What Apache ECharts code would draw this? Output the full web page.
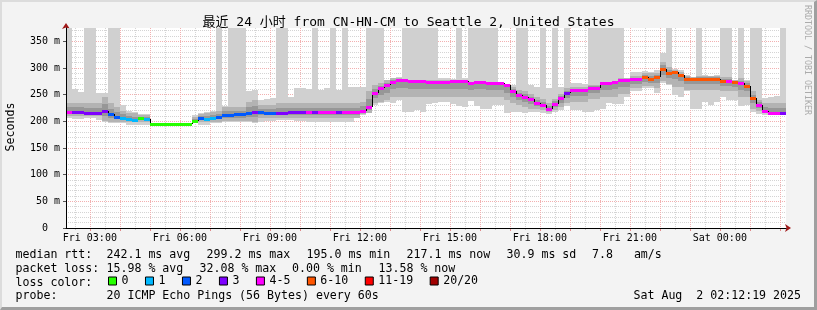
<!DOCTYPE html>
<html><head><meta charset="utf-8">
<script src="https://cdn.jsdelivr.net/npm/echarts@6/dist/echarts.min.js"></script>
<style>
html,body{margin:0;padding:0;background:#f3f3f3;}
#wrap{position:relative;width:817px;height:310px;}
#c{width:817px;height:310px;}
#frame{position:absolute;left:0;top:0;width:817px;height:310px;box-sizing:border-box;pointer-events:none;
 border-top:2px solid #dcdcdc;border-left:2px solid #dcdcdc;border-right:3px solid #9f9f9f;border-bottom:3px solid #9f9f9f;}
</style></head><body><div id="wrap"><div id="c"></div><div id="frame"></div></div>
<script>
// ---- time frame (hours since Fri 00:00) ----
const START_H = 2 + 12/60 + 19/3600;   // Fri 02:12:19
const END_H = START_H + 24;           // Sat 02:12:19
const FIRST_STEP_H = 2.2;              // 02:12:00, 12-minute consolidation steps
const STEP_H = 0.2;
const Y_MAX = 375;

// ---- loss buckets ----
const lossNames = ['0','1','2','3','4-5','6-10','11-19','20/20'];
const lossColors = ['#26ff00','#00b8ff','#0059ff','#7e00ff','#ff00ff','#ff5500','#ff0000','#a10000'];

// ---- median rtt per step (ms) ----
const median = [
 217,217,217,216,216,216,220,213,209,207,
 204,203,207,204,195,195,195,195,195,195,
 195,201,206,204,207,208,211,211,213,213,
 216,218,217,216,216,216,216,217,217,217,
 217,217,217,217,217,217,217,217,217,220,
 227,253,262,268,274,278,278,276,276,276,
 274,274,274,274,276,276,276,272,274,274,
 271,271,271,268,256,249,246,241,235,231,
 224,233,243,253,258,258,258,263,263,271,
 272,274,277,277,279,279,283,279,283,299,
 291,293,286,280,280,280,280,280,280,276,
 276,274,271,266,243,231,219,216,216,216];

// ---- loss bucket index per step ----
const lossIdx = [
 4,3,3,3,3,3,3,2,2,1,
 1,1,0,1,0,0,0,0,0,0,
 0,0,2,1,1,2,2,2,2,2,
 2,3,2,2,2,3,3,3,3,3,
 4,3,4,4,4,3,4,4,4,4,
 4,4,4,4,4,4,4,4,4,4,
 4,4,4,4,4,4,4,4,4,4,
 4,4,4,4,4,4,4,4,4,4,
 4,4,4,3,4,4,4,4,4,4,
 4,4,4,4,4,4,5,5,5,5,
 5,5,5,5,5,5,5,5,5,5,
 4,5,4,5,5,4,4,4,4,3];

// ---- smoke: slowest ping per step (400 = above the chart) ----
const pingMax = [
 400,261,255,400,400,253,253,400,400,231,
 219,217,213,213,195,195,195,195,195,195,
 195,211,215,217,219,400,228,400,400,400,
 256,259,240,242,243,400,400,246,262,262,
 261,400,259,262,400,259,400,265,265,265,
 400,400,400,278,282,284,400,400,400,400,
 400,400,281,281,279,400,281,400,400,400,
 400,400,273,270,268,400,400,268,265,400,
 263,400,265,400,271,271,270,400,400,400,
 400,400,400,281,293,293,294,292,296,328,
 400,299,296,287,284,400,286,285,286,400,
 400,278,400,278,400,400,243,246,248,400];

// ---- smoke: fastest ping per step ----
const pingMin = [
 206,204,204,206,206,202,199,196,196,196,
 194,194,194,194,195,195,195,195,195,195,
 195,198,194,194,196,196,198,198,198,198,
 199,196,199,201,201,203,203,203,201,201,
 198,198,198,199,199,199,199,199,212,212,
 215,231,234,237,234,240,217,217,221,217,
 232,234,237,236,232,228,226,238,228,224,
 224,231,231,215,217,217,215,218,217,215,
 213,217,221,228,221,221,217,217,221,224,
 235,232,232,246,256,256,262,262,253,271,
 268,249,246,256,224,224,237,231,237,246,
 240,240,229,231,217,213,211,211,212,212];

// ---- smoke: dense core band per step ----
const bandLo = [
 210,210,210,210,210,210,200,198,198,198,
 198,198,198,198,195,195,195,195,195,195,
 195,199,198,198,198,199,200,200,200,200,
 200,199,206,206,206,207,207,207,207,207,
 207,207,207,207,207,207,207,207,207,213,
 215,234,237,240,246,246,246,246,246,246,
 246,246,246,246,246,246,246,246,246,246,
 246,246,246,240,234,231,227,224,223,221,
 217,221,227,234,237,237,237,242,242,246,
 246,246,252,252,262,262,266,266,262,275,
 270,265,265,259,259,259,259,259,259,256,
 256,256,246,246,224,219,215,213,213,213];
const bandHi = [
 235,235,235,235,235,235,246,234,227,219,
 215,215,211,211,195,195,195,195,195,195,
 195,209,213,215,217,219,227,227,227,227,
 237,240,230,230,230,234,234,234,234,234,
 234,234,234,234,234,234,234,234,234,237,
 256,268,271,277,281,281,280,277,277,277,
 277,277,277,277,277,277,277,274,274,274,
 274,274,271,268,265,259,256,252,246,242,
 234,242,252,262,265,265,265,268,268,274,
 274,274,281,281,285,285,290,290,290,312,
 302,296,293,285,283,285,285,285,285,284,
 284,277,281,276,256,240,234,234,234,234];

// ---- axis ticks / labels ----
const xLabelHours = [3,6,9,12,15,18,21,24];
const xLabels = ['Fri 03:00','Fri 06:00','Fri 09:00','Fri 12:00','Fri 15:00','Fri 18:00','Fri 21:00','Sat 00:00'];
const xMajorHours = [3,4,5,6,7,8,9,10,11,12,13,14,15,16,17,18,19,20,21,22,23,24,25,26];
const xMinorHours = [2.5,3.5,4.5,5.5,6.5,7.5,8.5,9.5,10.5,11.5,12.5,13.5,14.5,15.5,16.5,17.5,18.5,19.5,20.5,21.5,22.5,23.5,24.5,25.5];
const yTicks = [0,50,100,150,200,250,300,350];
const yLabels = ['0  ','50 m','100 m','150 m','200 m','250 m','300 m','350 m'];
const yMinor = [10,20,30,40,60,70,80,90,110,120,130,140,160,170,180,190,210,220,230,240,260,270,280,290,310,320,330,340,360,370];

const FONT = "'DejaVu Sans Mono', monospace";
const TFONT = "'DejaVu Sans Mono', 'Noto Sans CJK SC', monospace";
const LIGHT = '#d0d0d0', MID = '#b3b3b3', DARK = '#979797';

const steps = median.map((m, i) => i);
const t0 = i => FIRST_STEP_H + i * STEP_H;

function rectBetween(api, cs, ta, tb, a, b, fill) {
  const p0 = api.coord([ta, Math.min(b, Y_MAX)]);
  const p1 = api.coord([tb, a]);
  const x0 = Math.max(Math.round(p0[0]), Math.round(cs.x));
  const x1 = Math.min(Math.round(p1[0]), Math.round(cs.x + cs.width));
  const y0 = Math.round(p0[1]), y1 = Math.round(p1[1]);
  if (x1 <= x0 || y1 - y0 < 1) return null;
  return {type: 'rect', shape: {x: x0, y: y0, width: x1 - x0, height: y1 - y0}, style: {fill: fill}};
}

function smokeItem(params, api) {
  const cs = params.coordSys;
  const ta = api.value(0), tb = api.value(1);
  const lo = api.value(2), hi = api.value(3), bl = api.value(4), bh = api.value(5), med = api.value(6);
  const ch = [
    rectBetween(api, cs, ta, tb, lo, hi, LIGHT),
    rectBetween(api, cs, ta, tb, bl, bh, MID),
    rectBetween(api, cs, ta, tb, (bl + med) / 2, (bh + med) / 2, DARK)
  ].filter(Boolean);
  return {type: 'group', children: ch};
}

function connectorItem(params, api) {
  const p0 = api.coord([api.value(0), api.value(1)]);
  const p1 = api.coord([api.value(0), api.value(2)]);
  const x = Math.round(p0[0]) + 0.5;
  return {type: 'line', shape: {x1: x, y1: Math.round(p0[1]), x2: x, y2: Math.round(p1[1])}, style: {stroke: '#000', lineWidth: 1}};
}

function medianItem(params, api) {
  const cs = params.coordSys;
  const p0 = api.coord([api.value(0), api.value(2)]);
  const p1 = api.coord([api.value(1), api.value(2)]);
  const x0 = Math.max(Math.round(p0[0]), Math.round(cs.x));
  const x1 = Math.min(Math.round(p1[0]), Math.round(cs.x + cs.width));
  const y = Math.round(p0[1]) - 1;
  return {type: 'rect', shape: {x: x0, y: y, width: x1 - x0, height: 3}, style: {fill: api.visual('color')}};
}

const smokeData = steps.map(i => [t0(i), t0(i + 1), pingMin[i], pingMax[i], bandLo[i], bandHi[i], median[i]]);
const connData = steps.filter(i => i > 0).map(i => [t0(i), median[i - 1], median[i]]);

const series = [
  {type: 'custom', name: 'smoke', xAxisIndex: 1, yAxisIndex: 1, z: 2, silent: true, clip: true,
   encode: {x: [0, 1], y: [2, 3]}, data: smokeData, renderItem: smokeItem},
  {type: 'custom', name: 'median', xAxisIndex: 1, yAxisIndex: 1, z: 3, silent: true, clip: true,
   encode: {x: 0, y: [1, 2]}, data: connData, renderItem: connectorItem}
].concat(lossNames.map((name, b) => ({
  type: 'custom', name: name, xAxisIndex: 1, yAxisIndex: 1, z: 4, silent: true, clip: true,
  itemStyle: {color: lossColors[b]},
  encode: {x: [0, 1], y: 2},
  data: steps.filter(i => lossIdx[i] === b).map(i => [t0(i), t0(i + 1), median[i]]),
  renderItem: medianItem
})));

const baseX = {type: 'value', position: 'bottom', min: START_H, max: END_H, gridIndex: 0};
const baseY = {type: 'value', position: 'left', min: 0, max: Y_MAX, gridIndex: 0};
const RED = '#f2b0b0', GREY = '#d4d4d4';

function txt(x, y, text, extra) {
  return Object.assign({type: 'text', x: x, y: y, silent: true,
    style: Object.assign({text: text, fill: '#000', font: '11.6px ' + FONT, align: 'left', verticalAlign: 'middle'}, extra || {})});
}

const option = {
  backgroundColor: '#f3f3f3',
  animation: false,
  grid: {left: 66, right: 31, top: 28, bottom: 82, show: true, backgroundColor: '#ffffff', borderWidth: 0},
  xAxis: [
    Object.assign({}, baseX, {axisLine: {show: false, onZero: false},
      axisTick: {show: true, customValues: xMinorHours, length: 2, lineStyle: {color: '#c4c4c4'}},
      axisLabel: {show: false}, splitLine: {show: true, lineStyle: {color: GREY, type: [1, 1], width: 1}}}),
    Object.assign({}, baseX, {axisLine: {show: false, onZero: false},
      axisTick: {show: true, customValues: xMajorHours, length: 3, lineStyle: {color: '#e08a8a'}},
      axisLabel: {show: true, customValues: xLabelHours, margin: 5, fontFamily: FONT, fontSize: 10, color: '#000',
        formatter: v => xLabels[xLabelHours.indexOf(Math.round(v))] || ''},
      splitLine: {show: true, lineStyle: {color: RED, type: [1, 1], width: 1}}}),
    Object.assign({}, baseX, {axisLine: {show: true, onZero: false, symbol: ['none', 'arrow'], symbolSize: [6, 6], symbolOffset: [0, 5],
      lineStyle: {color: '#a01818'}}, axisTick: {show: false}, axisLabel: {show: false}, splitLine: {show: false}}),
    Object.assign({}, baseX, {z: 5, axisLine: {show: true, onZero: false, lineStyle: {color: '#000'}},
      axisTick: {show: false}, axisLabel: {show: false}, splitLine: {show: false}})
  ],
  yAxis: [
    Object.assign({}, baseY, {axisLine: {show: false, onZero: false},
      axisTick: {show: false, customValues: yMinor}, axisLabel: {show: false},
      splitLine: {show: true, lineStyle: {color: GREY, type: [1, 1], width: 1}}}),
    Object.assign({}, baseY, {axisLine: {show: false, onZero: false},
      axisTick: {show: true, customValues: yTicks, length: 3, lineStyle: {color: '#555'}},
      axisLabel: {show: true, customValues: yTicks, margin: 6, fontFamily: FONT, fontSize: 10, color: '#000',
        formatter: v => yLabels[yTicks.indexOf(Math.round(v))] || ''},
      splitLine: {show: true, lineStyle: {color: RED, type: [1, 1], width: 1}}}),
    Object.assign({}, baseY, {axisLine: {show: true, onZero: false, symbol: ['none', 'arrow'], symbolSize: [6, 6], symbolOffset: [0, 5],
      lineStyle: {color: '#a01818'}}, axisTick: {show: false}, axisLabel: {show: false}, splitLine: {show: false}}),
    Object.assign({}, baseY, {z: 5, axisLine: {show: true, onZero: false, lineStyle: {color: '#000'}},
      axisTick: {show: false}, axisLabel: {show: false}, splitLine: {show: false}})
  ],
  legend: {
    data: lossNames, left: 108, top: 275, padding: 0, orient: 'horizontal',
    itemWidth: 8, itemHeight: 8, itemGap: 16.5, icon: 'rect', selectedMode: false,
    itemStyle: {borderColor: '#000', borderWidth: 1},
    textStyle: {fontFamily: FONT, fontSize: 11.6, color: '#000', padding: 0}
  },
  graphic: [
    txt(408.5, 22.5, '最近 24 小时 from CN-HN-CM to Seattle 2, United States', {align: 'center', font: '13px ' + TFONT}),
    txt(10.5, 127, 'Seconds', {align: 'center'}),
    Object.assign(txt(807.5, 60, 'RRDTOOL / TOBI OETIKER', {align: 'center', fill: '#ababab', font: '8.3px ' + FONT}), {rotation: -Math.PI / 2}),
    txt(15.5, 254.5, 'median rtt:'),
    txt(106.5, 254.5, '242.1 ms avg'),
    txt(206.5, 254.5, '299.2 ms max'),
    txt(306.5, 254.5, '195.0 ms min'),
    txt(406.5, 254.5, '217.1 ms now'),
    txt(506.5, 254.5, '30.9 ms sd'),
    txt(592, 254.5, '7.8   am/s'),
    txt(15.5, 268.5, 'packet loss:'),
    txt(106.5, 268.5, '15.98 % avg'),
    txt(199.5, 268.5, '32.08 % max'),
    txt(292, 268.5, '0.00 % min'),
    txt(378.5, 268.5, '13.58 % now'),
    txt(15.5, 282.5, 'loss color:'),
    txt(15.5, 296, 'probe:'),
    txt(106.5, 296, '20 ICMP Echo Pings (56 Bytes) every 60s'),
    txt(801, 296, 'Sat Aug  2 02:12:19 2025', {align: 'right'})
  ],
  series: series
};
option.graphic[1].rotation = Math.PI / 2;

const chart = echarts.init(document.getElementById('c'), null, {renderer: 'canvas'});
chart.setOption(option);
</script></body></html>
